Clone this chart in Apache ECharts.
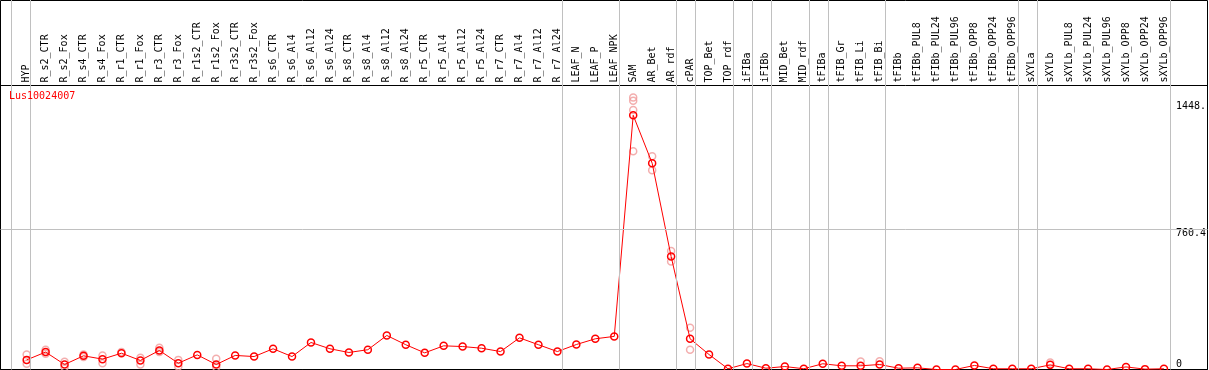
<!DOCTYPE html>
<html>
<head>
<meta charset="utf-8">
<script src="https://cdn.jsdelivr.net/npm/echarts@6/dist/echarts.min.js"></script>
<style>html,body{margin:0;padding:0;background:#fff}#c{width:1209px;height:370px}</style>
</head>
<body>
<div id="c"></div>
<script>
const seriesName = 'Lus10024007';
const categories = ['HYP','R_s2_CTR','R_s2_Fox','R_s4_CTR','R_s4_Fox','R_r1_CTR','R_r1_Fox','R_r3_CTR','R_r3_Fox','R_r1s2_CTR','R_r1s2_Fox','R_r3s2_CTR','R_r3s2_Fox','R_s6_CTR','R_s6_Al4','R_s6_Al12','R_s6_Al24','R_s8_CTR','R_s8_Al4','R_s8_Al12','R_s8_Al24','R_r5_CTR','R_r5_Al4','R_r5_Al12','R_r5_Al24','R_r7_CTR','R_r7_Al4','R_r7_Al12','R_r7_Al24','LEAF_N','LEAF_P','LEAF_NPK','SAM','AR_Bet','AR_rdf','cPAR','TOP_Bet','TOP_rdf','iFIBa','iFIBb','MID_Bet','MID_rdf','tFIBa','tFIB_Gr','tFIB_Li','tFIB_Bi','tFIBb','tFIBb_PUL8','tFIBb_PUL24','tFIBb_PUL96','tFIBb_OPP8','tFIBb_OPP24','tFIBb_OPP96','sXYLa','sXYLb','sXYLb_PUL8','sXYLb_PUL24','sXYLb_PUL96','sXYLb_OPP8','sXYLb_OPP24','sXYLb_OPP96'];
const meanValues = [52,94,27,74,56,88,49,103,34,79,27,76,70,112,70,146,112,92,107,184,134,90,128,124,115,97,171,134,97,135,166,179,1374,1115,611,166,81,4,32,7,16,4,31,20,20,27,7,9,0,0,22,4,4,4,25,4,4,0,14,2,4];
const repNames = ['HYP','HYP','R_s2_CTR','R_s2_CTR','R_s2_Fox','R_s2_Fox','R_s4_CTR','R_s4_CTR','R_s4_Fox','R_s4_Fox','R_r1_CTR','R_r1_Fox','R_r1_Fox','R_r3_CTR','R_r3_CTR','R_r3_Fox','R_r3_Fox','R_r1s2_Fox','R_r1s2_Fox','SAM','SAM','SAM','SAM','AR_Bet','AR_Bet','AR_rdf','AR_rdf','cPAR','cPAR','tFIB_Li','tFIB_Bi','sXYLb'];
const repValues = [81,31,107,85,42,12,81,67,76,34,94,63,27,118,94,52,16,58,12,1470,1452,1403,1180,1153,1077,640,584,226,107,43,45,38];
const groupEnds = ['HYP','R_r7_Al24','LEAF_NPK','AR_rdf','cPAR','TOP_rdf','iFIBa','iFIBb','MID_rdf','tFIBa','tFIB_Bi','tFIBb_OPP96','sXYLa','sXYLb_OPP96'];
const yTickValues = [0, 760.4, 1448];
const yTickLabels = ['0', '760.4', '1448.'];
const Y_MAX = 1535;

const FONT = 'DejaVu Sans Mono';
const BAND_LEFT = 17.2, BAND_RIGHT = 33.4, BAND = 18.99;
const LINE_OFF = 0.21;

const vLines = [{xAxis: -1 + LINE_OFF}].concat(groupEnds.map(n => ({xAxis: categories.indexOf(n) + LINE_OFF})));
const repData = repNames.map((n, i) => [n, repValues[i]]);
const labelFor = v => { const i = yTickValues.findIndex(t => Math.abs(t - v) < 1e-6); return i >= 0 ? yTickLabels[i] : ''; };

const chart = echarts.init(document.getElementById('c'), null, {renderer: 'canvas'});
chart.setOption({
  animation: false,
  backgroundColor: '#fff',
  textStyle: {fontFamily: FONT},
  title: {text: seriesName, left: 4, top: 86, textStyle: {color: '#ff0000', fontSize: 10, fontWeight: 'normal', fontFamily: FONT}},
  grid: [
    {left: 0.5, right: 1.5, top: 0.5, bottom: 0.5, show: true, borderColor: '#000', borderWidth: 1, backgroundColor: 'transparent'},
    {left: 0.5, right: 1.5, top: 85.5, bottom: 0.5, show: true, borderColor: '#000', borderWidth: 1, backgroundColor: 'transparent'},
    {left: BAND_LEFT - BAND / 2, right: BAND_RIGHT, top: 0, bottom: 0.5},
    {left: BAND_LEFT, right: BAND_RIGHT, top: 85.5, bottom: 0.5}
  ],
  xAxis: [
    {gridIndex: 0, type: 'value', show: false, min: 0, max: 1},
    {gridIndex: 1, type: 'value', show: false, min: 0, max: 1},
    {gridIndex: 2, type: 'value', show: false, min: -1, max: 60.5},
    {gridIndex: 3, type: 'category', data: categories, position: 'top', boundaryGap: true,
      axisLine: {show: false}, axisTick: {show: false}, splitLine: {show: false},
      axisLabel: {interval: 0, rotate: 90, margin: 3, color: '#000', fontSize: 10, fontFamily: FONT}}
  ],
  yAxis: [
    {gridIndex: 0, type: 'value', show: false, min: 0, max: 1},
    {gridIndex: 1, type: 'value', show: false, min: 0, max: Y_MAX},
    {gridIndex: 2, type: 'value', show: false, min: 0, max: 1},
    {gridIndex: 3, type: 'value', min: 0, max: Y_MAX, position: 'right',
      axisLine: {show: false}, axisTick: {show: false}, splitLine: {show: false},
      axisLabel: {customValues: yTickValues.slice(1), formatter: labelFor, margin: 2.5, align: 'left', verticalAlign: 'top', color: '#000', fontSize: 10, fontFamily: FONT}},
    {gridIndex: 3, type: 'value', min: 0, max: Y_MAX, position: 'right',
      axisLine: {show: false}, axisTick: {show: false}, splitLine: {show: false},
      axisLabel: {customValues: yTickValues.slice(0, 1), formatter: labelFor, margin: 2.5, align: 'left', verticalAlign: 'bottom', color: '#000', fontSize: 10, fontFamily: FONT}}
  ],
  series: [
    {type: 'line', xAxisIndex: 1, yAxisIndex: 1, data: [], silent: true,
      markLine: {silent: true, symbol: 'none', label: {show: false}, lineStyle: {color: '#c0c0c0', width: 1, type: 'solid'},
        data: [{yAxis: yTickValues[1]}]}},
    {type: 'line', xAxisIndex: 2, yAxisIndex: 2, data: [], silent: true,
      markLine: {silent: true, symbol: 'none', label: {show: false}, lineStyle: {color: '#c0c0c0', width: 1, type: 'solid'},
        data: vLines}},
    {name: seriesName + ' replicates', type: 'scatter', xAxisIndex: 3, yAxisIndex: 3, data: repData, z: 3,
      symbol: 'circle', symbolSize: 7,
      itemStyle: {color: 'rgba(0,0,0,0)', borderColor: '#f09a9a', borderWidth: 1.5}},
    {name: seriesName, type: 'line', xAxisIndex: 3, yAxisIndex: 3, data: meanValues, z: 4,
      symbol: 'circle', symbolSize: 7, showAllSymbol: true,
      lineStyle: {color: '#ff0000', width: 1},
      itemStyle: {color: 'rgba(0,0,0,0)', borderColor: '#ff0000', borderWidth: 1.5}}
  ]
});
</script>
</body>
</html>
